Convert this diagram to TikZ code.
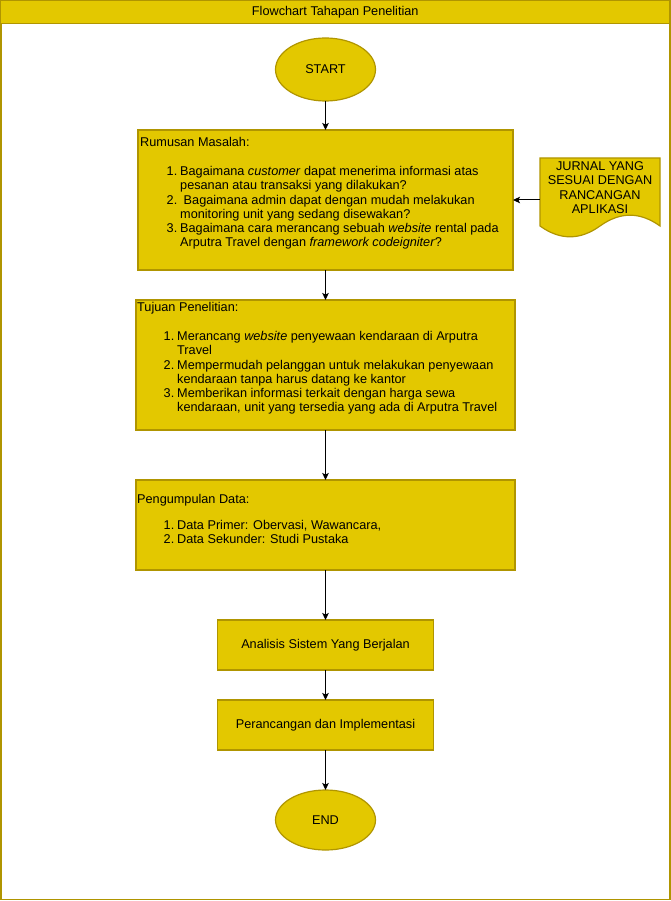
\documentclass[tikz,border=0pt]{standalone}
\usepackage{fontspec}
\setmainfont{Liberation Sans}
\usetikzlibrary{arrows.meta, positioning, shapes.geometric}
\definecolor{boxfill}{HTML}{E3C800}
\definecolor{boxline}{HTML}{B09500}
\newcommand{\numitem}[2]{\hspace*{26.5pt}\makebox[13.5pt][l]{#1}#2}
\newcommand{\contitem}[1]{\hspace*{40pt}#1}
\tikzset{
>={Stealth[length=7pt, width=6.5pt, inset=1.5pt]}, % arrow heads
every node/.style={inner sep=0pt, font=\fontsize{12.7}{14.3}\selectfont},
process/.style={draw=boxline, fill=boxfill, line width=1.2pt, outer sep=0pt}, % yellow boxes
terminal/.style={process, ellipse, minimum width=100pt},
listtext/.style={align=left},
flow/.style={->, line width=1pt},
}

\begin{document}
\begin{tikzpicture}[x=1pt, y=-1pt]
  \useasboundingbox (0,0) rectangle (671,901);
  \draw[boxline, line width=1.5pt] (0.75,0.75) rectangle (669.75,899.25);
  \node[process, minimum width=669pt, minimum height=22.5pt, anchor=north west] (judul) at (0.75,0.75) {Flowchart Tahapan Penelitian};

  \node[terminal, minimum height=63pt] (start) at (325.5,69.5) {START};
  \node[process, minimum width=375pt, minimum height=140pt, below=29pt of start] (rumusan) {};
  \node[listtext, right=2pt of rumusan.west, yshift=6.5pt] (rumusan-isi) {%
    Rumusan Masalah:\\[14.5pt]
    \numitem{1.}{Bagaimana \textit{customer} dapat menerima informasi atas}\\
    \contitem{pesanan atau transaksi yang dilakukan?}\\
    \numitem{2.}{\ Bagaimana admin dapat dengan mudah melakukan}\\
    \contitem{monitoring unit yang sedang disewakan?}\\
    \numitem{3.}{Bagaimana cara merancang sebuah \textit{website} rental pada}\\
    \contitem{Arputra Travel dengan \textit{framework codeigniter}?}};

  \node[process, minimum width=379pt, minimum height=130pt, below=30pt of rumusan] (tujuan) {};
  \node[listtext, right=1pt of tujuan.west, yshift=6.5pt] (tujuan-isi) {%
    Tujuan Penelitian:\\[14.5pt]
    \numitem{1.}{Merancang \textit{website} penyewaan kendaraan di Arputra}\\
    \contitem{Travel}\\
    \numitem{2.}{Mempermudah pelanggan untuk melakukan penyewaan}\\
    \contitem{kendaraan tanpa harus datang ke kantor}\\
    \numitem{3.}{Memberikan informasi terkait dengan harga sewa}\\
    \contitem{kendaraan, unit yang tersedia yang ada di Arputra Travel}};

  \node[process, minimum width=379pt, minimum height=90pt, below=50pt of tujuan] (pengumpulan) {};
  \node[listtext, right=1pt of pengumpulan.west, yshift=6pt] (pengumpulan-isi) {%
    Pengumpulan Data:\\[12pt]
    \numitem{1.}{Data Primer: Obervasi, Wawancara,}\\
    \numitem{2.}{Data Sekunder: Studi Pustaka}};

  \node[process, minimum width=216pt, minimum height=50pt, below=50pt of pengumpulan] (analisis) {Analisis Sistem Yang Berjalan};
  \node[process, minimum width=216pt, minimum height=50pt, below=30pt of analisis] (perancangan) {Perancangan dan Implementasi};
  \node[terminal, minimum height=60pt, below=40pt of perancangan] (end) {END};

  % document shape for the journal
  \draw[process] (540,158) -- (660,158) -- (660,226)
    .. controls (640,211.6) and (620,211.6) .. (600,226)
    .. controls (580,240.4) and (560,240.4) .. (540,226) -- cycle;
  \node[align=center, minimum width=120pt] (jurnal) at (600,187.5) {JURNAL YANG\\SESUAI DENGAN\\RANCANGAN\\APLIKASI};

  \draw[flow] (start) -- (rumusan);
  \draw[flow] (rumusan) -- (tujuan);
  \draw[flow] (tujuan) -- (pengumpulan);
  \draw[flow] (pengumpulan) -- (analisis);
  \draw[flow] (analisis) -- (perancangan);
  \draw[flow] (perancangan) -- (end);
  \draw[flow] (jurnal.west |- rumusan.east) -- (rumusan.east);
\end{tikzpicture}
\end{document}
